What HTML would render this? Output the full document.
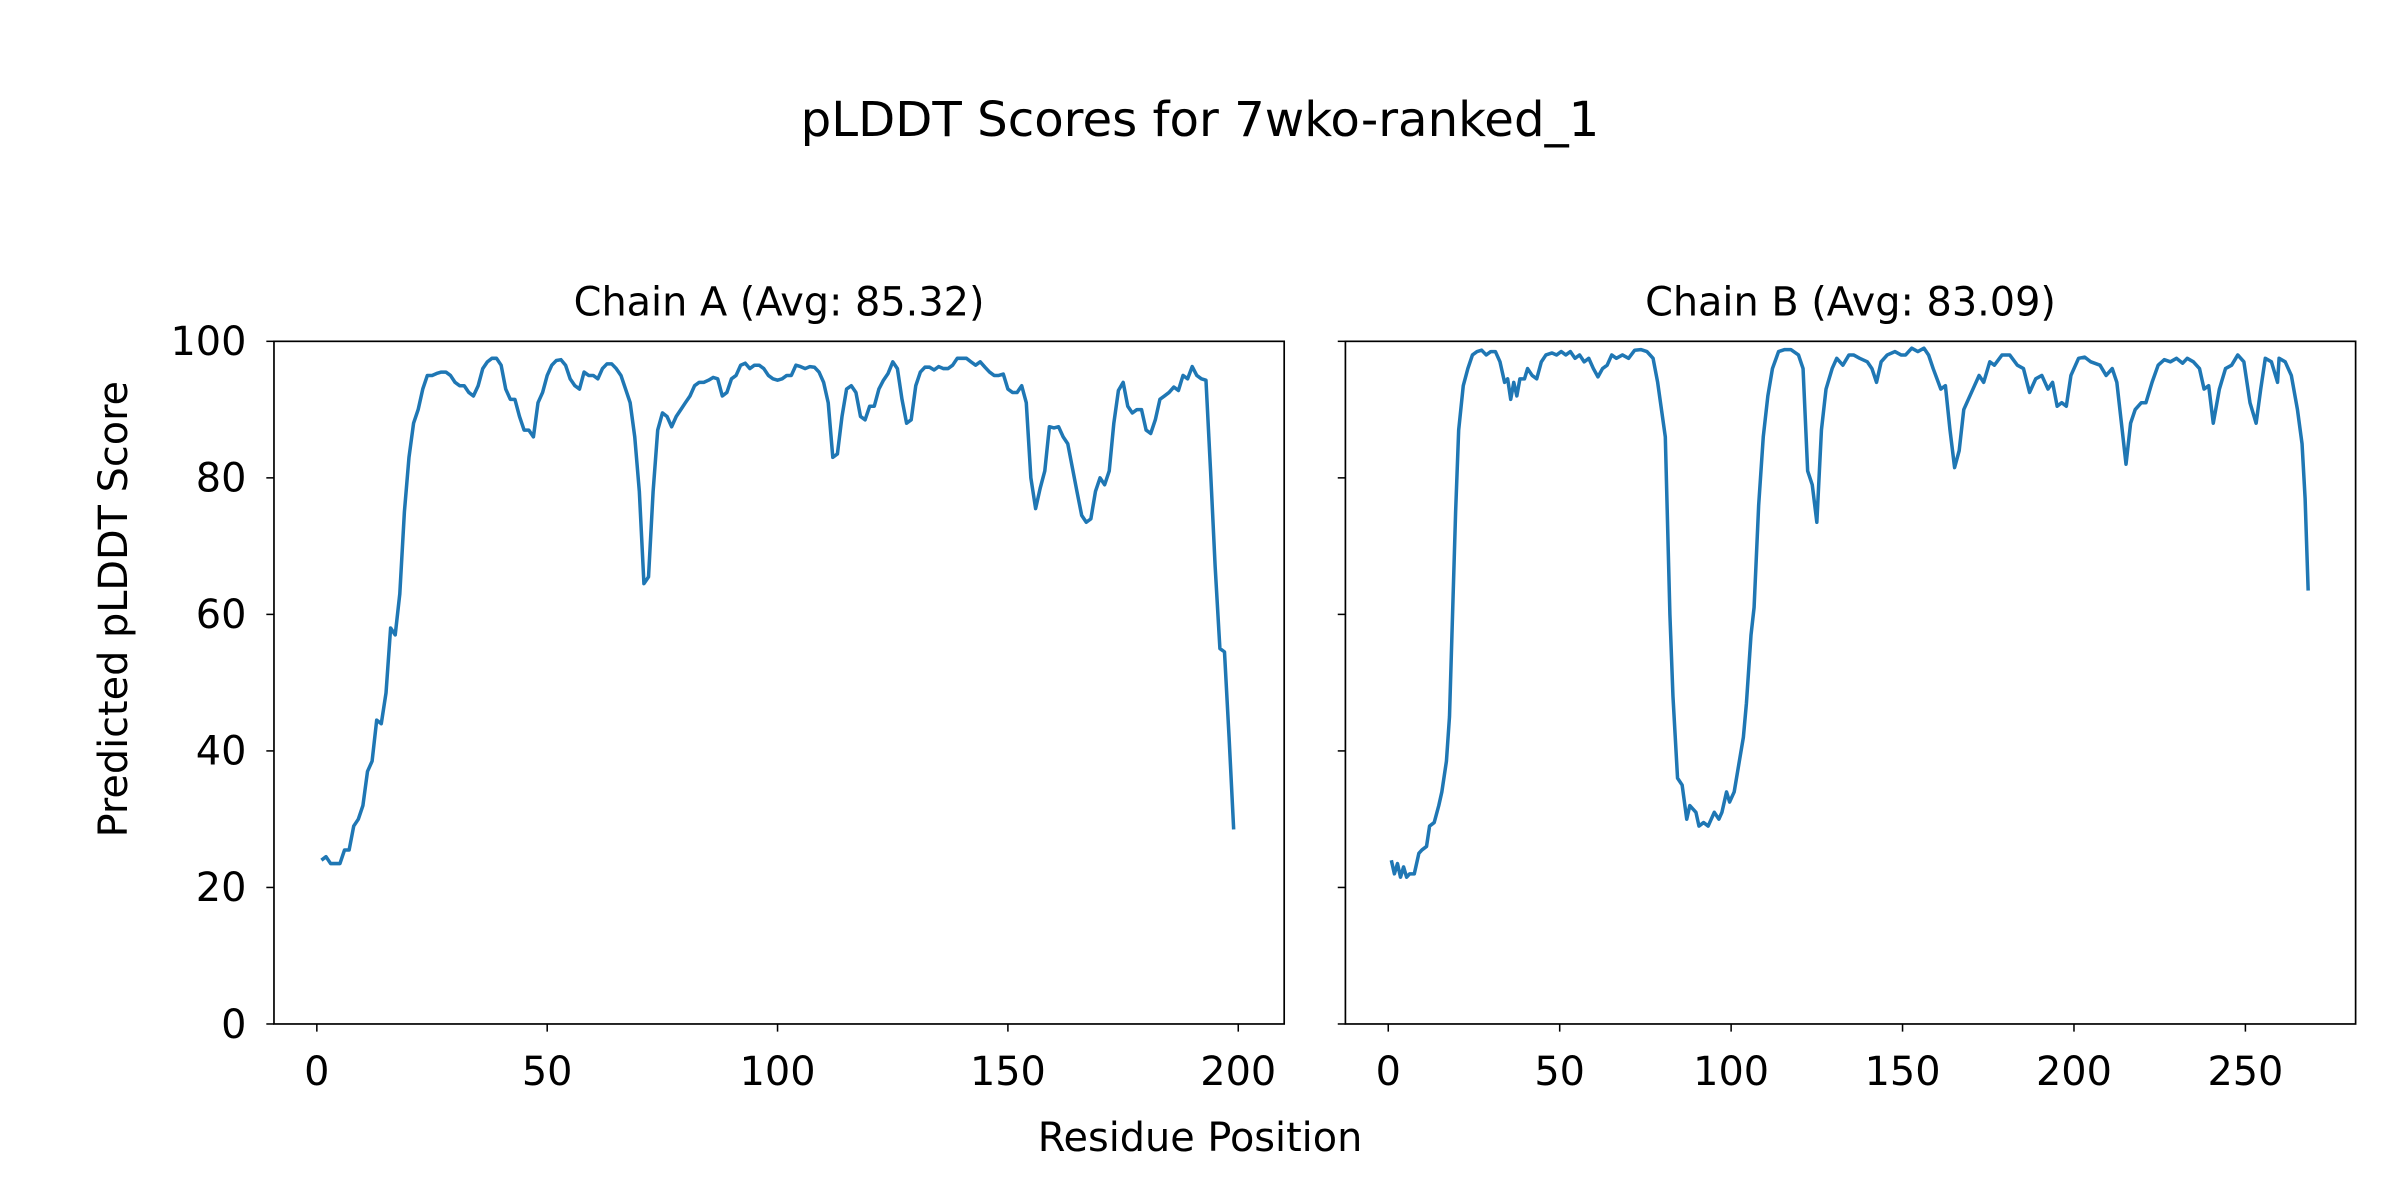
<!DOCTYPE html>
<html><head><meta charset="utf-8"><style>
html,body{margin:0;padding:0;background:#fff;}
svg{display:block;}
text{font-family:"DejaVu Sans","Liberation Sans",sans-serif;fill:#000;}
</style></head><body>
<svg id="s" width="2400" height="1200" viewBox="0 0 1568 784" xmlns="http://www.w3.org/2000/svg">
<rect width="1568" height="784" fill="#fff"/>
<text x="784" y="89" font-size="31.5" text-anchor="middle">pLDDT Scores for 7wko-ranked_1</text>
<text x="509" y="206" font-size="26" text-anchor="middle">Chain A (Avg: 85.32)</text>
<text x="1209" y="206" font-size="26" text-anchor="middle">Chain B (Avg: 83.09)</text>
<text x="784" y="752" font-size="26" text-anchor="middle">Residue Position</text>
<text transform="translate(83,398) rotate(-90)" font-size="26" text-anchor="middle">Predicted pLDDT Score</text>
<g id="ticks" stroke="#000" stroke-width="1"></g>
<g id="labels" font-size="26"></g>
<polyline id="la" fill="none" stroke="#1f77b4" stroke-width="2.3" stroke-linejoin="round"/>
<polyline id="lb" fill="none" stroke="#1f77b4" stroke-width="2.3" stroke-linejoin="round"/>
<rect x="179" y="223" width="660" height="446" fill="none" stroke="#000" stroke-width="1.1"/>
<rect x="879" y="223" width="660" height="446" fill="none" stroke="#000" stroke-width="1.1"/>
</svg>
<script>
var Y=function(v){return 669-v*4.46;};
var A=[24,24.5,23.5,23.5,23.5,25.5,25.5,29,30,32,37,38.5,44.5,44,48.5,58,57,63,75,83,88,90,93,95,95,95.3,95.5,95.5,95,94,93.5,93.5,92.5,92,93.5,96,97,97.5,97.5,96.5,93,91.5,91.5,89,87,87,86,91,92.5,95,96.5,97.2,97.3,96.5,94.5,93.5,93,95.5,95,95,94.5,96,96.7,96.7,96,95,93,91,86,78,64.5,65.5,78,87,89.5,89,87.5,89,90,91,92,93.5,94,94,94.3,94.7,94.5,92,92.5,94.5,95,96.5,96.8,96,96.5,96.5,96,95,94.5,94.3,94.5,95,95,96.5,96.3,96,96.3,96.2,95.5,94,91,83,83.5,89,93,93.5,92.5,89,88.5,90.5,90.5,93,94.3,95.3,97,96,91.5,88,88.5,93.5,95.5,96.2,96.2,95.8,96.3,96,96,96.5,97.5,97.5,97.5,97,96.5,97,96.2,95.5,95,95,95.2,93,92.5,92.5,93.5,91,80,75.5,78.5,81,87.5,87.3,87.5,86,85,81.5,78,74.5,73.5,74,78,80,79,81,88,92.8,94,90.5,89.5,90,90,87,86.5,88.5,91.5,92,92.5,93.3,92.8,95,94.5,96.3,95,94.5,94.3,81,67,55,54.5,42,28.5];
var pa=A.map(function(v,i){return (207+(i+1)*3.01).toFixed(1)+","+Y(v).toFixed(1);}).join(" ");
document.getElementById("la").setAttribute("points",pa);
var B=[909,24,911,22,913,23.5,915,21.5,917,23,919,21.5,921,22,924,22,927,25,929,25.5,932,26,934,29,937,29.5,940,32,942,34,945,38.5,947,45,949,60,951,75,953,87,956,93.5,959,96,962,98,965,98.5,968,98.7,971,98,974,98.5,977,98.5,980,97,983,94,985,94.5,987,91.5,989,94,991,92,993,94.5,996,94.5,998,96,1001,95,1004,94.5,1007,97,1010,98,1014,98.3,1017,98,1020,98.5,1023,98,1026,98.5,1029,97.5,1032,98,1035,97,1038,97.5,1041,96,1044,94.8,1047,96,1050,96.5,1053,98,1056,97.5,1060,98,1064,97.5,1068,98.7,1072,98.8,1076,98.5,1080,97.5,1083,94,1088,86,1091,60,1093,48,1096,36,1099,35,1102,30,1104,32,1108,31,1110,29,1113,29.5,1116,29,1120,31,1123,30,1125,31,1128,34,1130,32.5,1133,34,1136,38,1139,42,1141,47,1144,57,1146,61,1149,76,1152,86,1155,92,1158,96,1162,98.5,1166,98.8,1170,98.8,1175,98,1178,96,1181,81,1184,79,1187,73.5,1190,87,1193,93,1197,96,1200,97.5,1204,96.5,1208,98,1211,98,1215,97.5,1220,97,1223,96,1226,94,1229,97,1233,98,1238,98.5,1242,98,1245,98,1249,99,1253,98.5,1257,99,1260,98,1263,96,1268,93,1271,93.5,1274,87,1277,81.5,1280,84,1283,90,1286,91.5,1290,93.5,1293,95,1296,94,1300,97,1303,96.5,1308,98,1313,98,1318,96.5,1322,96,1326,92.5,1330,94.5,1334,95,1338,93,1341,94,1344,90.5,1347,91,1350,90.5,1353,95,1358,97.5,1362,97.7,1366,97,1372,96.5,1376,95,1380,96,1383,94,1386,88,1389,82,1392,88,1395,90,1399,91,1402,91,1406,94,1410,96.5,1414,97.3,1418,97,1422,97.5,1426,96.8,1429,97.5,1433,97,1437,96,1440,93,1443,93.5,1446,88,1450,93,1454,96,1458,96.5,1462,98,1466,97,1470,91,1474,88,1477,93,1480,97.5,1484,97,1488,94,1491,88,1494,78,1496,93,1500,94,1504,85,1506,77,1508,63.5];
B.splice(B.length-14,14, 1489,97.5,1493,97,1497,95,1501,90,1504,85,1506,77,1508,63.5);
var pb=[];for(var i=0;i<B.length;i+=2)pb.push(B[i]+","+Y(B[i+1]).toFixed(1));
document.getElementById("lb").setAttribute("points",pb.join(" "));
var t="",l="";
[0,50,100,150,200].forEach(function(r){var x=207+r*3.01;t+='<line x1="'+x+'" y1="669" x2="'+x+'" y2="674"/>';l+='<text x="'+x+'" y="709" text-anchor="middle">'+r+'</text>';});
[0,50,100,150,200,250].forEach(function(r){var x=907+r*2.24;t+='<line x1="'+x+'" y1="669" x2="'+x+'" y2="674"/>';l+='<text x="'+x+'" y="709" text-anchor="middle">'+r+'</text>';});
[0,20,40,60,80,100].forEach(function(v){var y=Y(v);t+='<line x1="174" y1="'+y+'" x2="179" y2="'+y+'"/><line x1="874" y1="'+y+'" x2="879" y2="'+y+'"/>';l+='<text x="161" y="'+(y+9)+'" text-anchor="end">'+v+'</text>';});
document.getElementById("ticks").innerHTML=t;
document.getElementById("labels").innerHTML=l;
</script>
</body></html>
